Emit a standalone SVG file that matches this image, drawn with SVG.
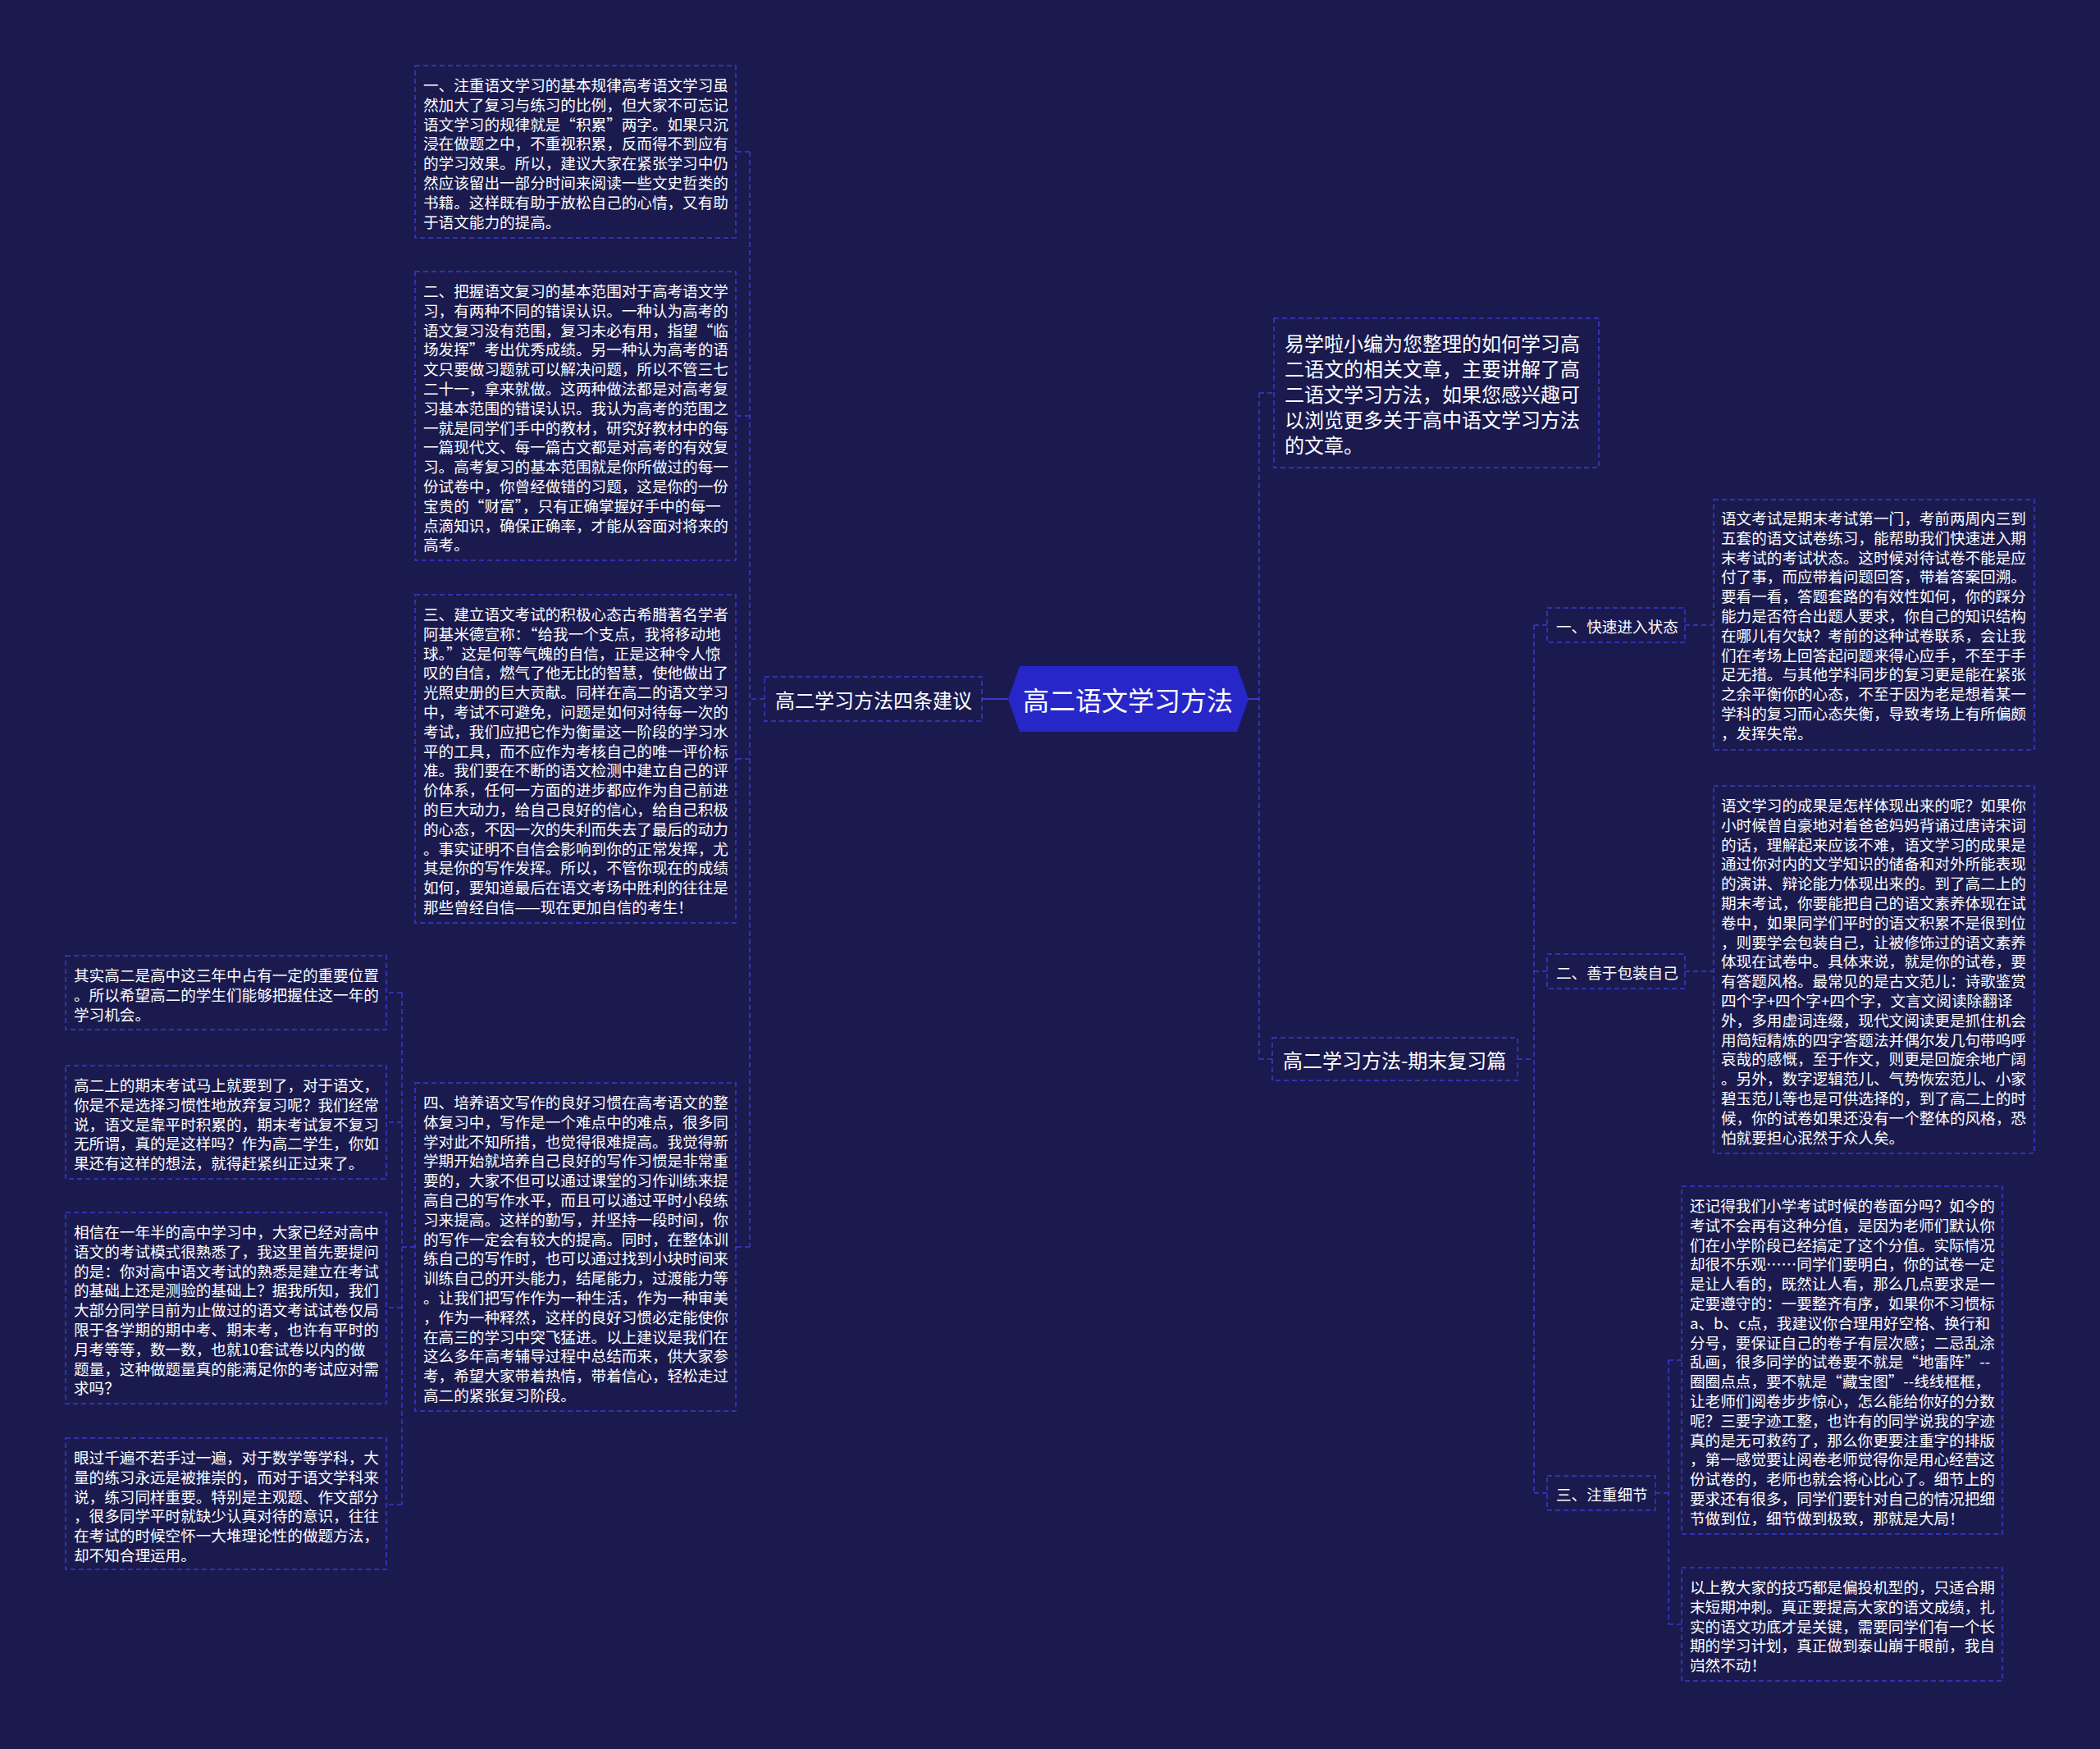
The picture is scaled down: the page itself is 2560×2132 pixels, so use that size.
<svg xmlns="http://www.w3.org/2000/svg" width="2560" height="2132" viewBox="0 0 2560 2132">
<style>
.bg{fill:#1a1a4f}
.box{fill:#1a1a4f;stroke:#3a3acf;stroke-width:1.5;stroke-dasharray:6 4}
.ln{fill:none;stroke:#3a3acf;stroke-width:1.5;stroke-dasharray:6 4}
.solid{fill:none;stroke:#3a3acf;stroke-width:2}
text{font-family:"Noto Sans CJK SC","Noto Sans CJK TC",sans-serif;fill:#ffffff;dominant-baseline:central}
.t{font-size:18.6px}
.m{font-size:24px}
.c{font-size:32px}
</style>
<rect class="bg" x="0" y="0" width="2560" height="2132"/>

<g id="connectors">
  <path class="solid" d="M1229,852 H1197"/>
  <path class="ln" d="M932,852 H914 M914,185 V1520 M914,185 H897 M914,507 H897 M914,925 H897 M914,1520 H897"/>
  <path class="ln" d="M506,1520 H490 M490,1210 V1834 M490,1210 H471 M490,1368 H471 M490,1594 H471 M490,1834 H471"/>
  <path class="solid" d="M1522,852 H1535"/>
  <path class="ln" d="M1535,479 V1291 M1535,479 H1553 M1535,1291 H1551"/>
  <path class="ln" d="M1850,1291 H1870 M1870,762 V1820 M1870,762 H1886 M1870,1184 H1886 M1870,1820 H1886"/>
  <path class="ln" d="M2054,762 H2089 M2054,1184 H2089"/>
  <path class="ln" d="M2018,1820 H2034 M2034,1658 V1980 M2034,1658 H2050 M2034,1980 H2050"/>
</g>

<g id="center">
  <polygon points="1229,852 1243,812 1508,812 1522,852 1508,892 1243,892" fill="#2727c9"/>
  <text class="c" x="1375" y="852" text-anchor="middle">高二语文学习方法</text>
</g>

<g id="branch-left">
  <rect class="box" x="932" y="825" width="265" height="54"/>
  <text class="m" x="945" y="852">高二学习方法四条建议</text>
</g>

<g id="nodeA">
  <rect class="box" x="506" y="80" width="391" height="210"/>
  <text class="t" x="516"><tspan x="516" y="102">一、注重语文学习的基本规律高考语文学习虽</tspan><tspan x="516" y="125.8">然加大了复习与练习的比例，但大家不可忘记</tspan><tspan x="516" y="149.6">语文学习的规律就是“积累”两字。如果只沉</tspan><tspan x="516" y="173.4">浸在做题之中，不重视积累，反而得不到应有</tspan><tspan x="516" y="197.2">的学习效果。所以，建议大家在紧张学习中仍</tspan><tspan x="516" y="221">然应该留出一部分时间来阅读一些文史哲类的</tspan><tspan x="516" y="244.8">书籍。这样既有助于放松自己的心情，又有助</tspan><tspan x="516" y="268.6">于语文能力的提高。</tspan></text>
</g>

<g id="nodeB">
  <rect class="box" x="506" y="331" width="391" height="352"/>
  <text class="t"><tspan x="516" y="353">二、把握语文复习的基本范围对于高考语文学</tspan><tspan x="516" y="376.8">习，有两种不同的错误认识。一种认为高考的</tspan><tspan x="516" y="400.6">语文复习没有范围，复习未必有用，指望“临</tspan><tspan x="516" y="424.4">场发挥”考出优秀成绩。另一种认为高考的语</tspan><tspan x="516" y="448.2">文只要做习题就可以解决问题，所以不管三七</tspan><tspan x="516" y="472">二十一，拿来就做。这两种做法都是对高考复</tspan><tspan x="516" y="495.8">习基本范围的错误认识。我认为高考的范围之</tspan><tspan x="516" y="519.6">一就是同学们手中的教材，研究好教材中的每</tspan><tspan x="516" y="543.4">一篇现代文、每一篇古文都是对高考的有效复</tspan><tspan x="516" y="567.2">习。高考复习的基本范围就是你所做过的每一</tspan><tspan x="516" y="591">份试卷中，你曾经做错的习题，这是你的一份</tspan><tspan x="516" y="614.8">宝贵的“财富”，只有正确掌握好手中的每一</tspan><tspan x="516" y="638.6">点滴知识，确保正确率，才能从容面对将来的</tspan><tspan x="516" y="662.4">高考。</tspan></text>
</g>

<g id="nodeC">
  <rect class="box" x="506" y="725" width="391" height="400"/>
  <text class="t"><tspan x="516" y="747">三、建立语文考试的积极心态古希腊著名学者</tspan><tspan x="516" y="770.8">阿基米德宣称：“给我一个支点，我将移动地</tspan><tspan x="516" y="794.6">球。”这是何等气魄的自信，正是这种令人惊</tspan><tspan x="516" y="818.4">叹的自信，燃气了他无比的智慧，使他做出了</tspan><tspan x="516" y="842.2">光照史册的巨大贡献。同样在高二的语文学习</tspan><tspan x="516" y="866">中，考试不可避免，问题是如何对待每一次的</tspan><tspan x="516" y="889.8">考试，我们应把它作为衡量这一阶段的学习水</tspan><tspan x="516" y="913.6">平的工具，而不应作为考核自己的唯一评价标</tspan><tspan x="516" y="937.4">准。我们要在不断的语文检测中建立自己的评</tspan><tspan x="516" y="961.2">价体系，任何一方面的进步都应作为自己前进</tspan><tspan x="516" y="985">的巨大动力，给自己良好的信心，给自己积极</tspan><tspan x="516" y="1008.8">的心态，不因一次的失利而失去了最后的动力</tspan><tspan x="516" y="1032.6">。事实证明不自信会影响到你的正常发挥，尤</tspan><tspan x="516" y="1056.4">其是你的写作发挥。所以，不管你现在的成绩</tspan><tspan x="516" y="1080.2">如何，要知道最后在语文考场中胜利的往往是</tspan><tspan x="516" y="1104">那些曾经自信——现在更加自信的考生！</tspan></text>
</g>

<g id="nodeD">
  <rect class="box" x="506" y="1320" width="391" height="400"/>
  <text class="t"><tspan x="516" y="1342">四、培养语文写作的良好习惯在高考语文的整</tspan><tspan x="516" y="1365.8">体复习中，写作是一个难点中的难点，很多同</tspan><tspan x="516" y="1389.6">学对此不知所措，也觉得很难提高。我觉得新</tspan><tspan x="516" y="1413.4">学期开始就培养自己良好的写作习惯是非常重</tspan><tspan x="516" y="1437.2">要的，大家不但可以通过课堂的习作训练来提</tspan><tspan x="516" y="1461">高自己的写作水平，而且可以通过平时小段练</tspan><tspan x="516" y="1484.8">习来提高。这样的勤写，并坚持一段时间，你</tspan><tspan x="516" y="1508.6">的写作一定会有较大的提高。同时，在整体训</tspan><tspan x="516" y="1532.4">练自己的写作时，也可以通过找到小块时间来</tspan><tspan x="516" y="1556.2">训练自己的开头能力，结尾能力，过渡能力等</tspan><tspan x="516" y="1580">。让我们把写作作为一种生活，作为一种审美</tspan><tspan x="516" y="1603.8">，作为一种释然，这样的良好习惯必定能使你</tspan><tspan x="516" y="1627.6">在高三的学习中突飞猛进。以上建议是我们在</tspan><tspan x="516" y="1651.4">这么多年高考辅导过程中总结而来，供大家参</tspan><tspan x="516" y="1675.2">考，希望大家带着热情，带着信心，轻松走过</tspan><tspan x="516" y="1699">高二的紧张复习阶段。</tspan></text>
</g>

<g id="nodeE">
  <rect class="box" x="80" y="1165" width="391" height="90"/>
  <text class="t"><tspan x="90" y="1187">其实高二是高中这三年中占有一定的重要位置</tspan><tspan x="90" y="1210.8">。所以希望高二的学生们能够把握住这一年的</tspan><tspan x="90" y="1234.6">学习机会。</tspan></text>
</g>

<g id="nodeF">
  <rect class="box" x="80" y="1299" width="391" height="138"/>
  <text class="t"><tspan x="90" y="1321">高二上的期末考试马上就要到了，对于语文，</tspan><tspan x="90" y="1344.8">你是不是选择习惯性地放弃复习呢？我们经常</tspan><tspan x="90" y="1368.6">说，语文是靠平时积累的，期末考试复不复习</tspan><tspan x="90" y="1392.4">无所谓，真的是这样吗？作为高二学生，你如</tspan><tspan x="90" y="1416.2">果还有这样的想法，就得赶紧纠正过来了。</tspan></text>
</g>

<g id="nodeG">
  <rect class="box" x="80" y="1478" width="391" height="233"/>
  <text class="t"><tspan x="90" y="1500">相信在一年半的高中学习中，大家已经对高中</tspan><tspan x="90" y="1523.8">语文的考试模式很熟悉了，我这里首先要提问</tspan><tspan x="90" y="1547.6">的是：你对高中语文考试的熟悉是建立在考试</tspan><tspan x="90" y="1571.4">的基础上还是测验的基础上？据我所知，我们</tspan><tspan x="90" y="1595.2">大部分同学目前为止做过的语文考试试卷仅局</tspan><tspan x="90" y="1619">限于各学期的期中考、期末考，也许有平时的</tspan><tspan x="90" y="1642.8">月考等等，数一数，也就10套试卷以内的做</tspan><tspan x="90" y="1666.6">题量，这种做题量真的能满足你的考试应对需</tspan><tspan x="90" y="1690.4">求吗？</tspan></text>
</g>

<g id="nodeH">
  <rect class="box" x="80" y="1753" width="391" height="160"/>
  <text class="t"><tspan x="90" y="1775">眼过千遍不若手过一遍，对于数学等学科，大</tspan><tspan x="90" y="1798.8">量的练习永远是被推崇的，而对于语文学科来</tspan><tspan x="90" y="1822.6">说，练习同样重要。特别是主观题、作文部分</tspan><tspan x="90" y="1846.4">，很多同学平时就缺少认真对待的意识，往往</tspan><tspan x="90" y="1870.2">在考试的时候空怀一大堆理论性的做题方法，</tspan><tspan x="90" y="1894">却不知合理运用。</tspan></text>
</g>

<g id="intro">
  <rect class="box" x="1553" y="388" width="396" height="182"/>
  <text class="m"><tspan x="1566" y="417">易学啦小编为您整理的如何学习高</tspan><tspan x="1566" y="448">二语文的相关文章，主要讲解了高</tspan><tspan x="1566" y="479">二语文学习方法，如果您感兴趣可</tspan><tspan x="1566" y="510">以浏览更多关于高中语文学习方法</tspan><tspan x="1566" y="541">的文章。</tspan></text>
</g>

<g id="branch-right">
  <rect class="box" x="1551" y="1265" width="299" height="52"/>
  <text class="m" x="1564" y="1291">高二学习方法-期末复习篇</text>
</g>

<g id="label1">
  <rect class="box" x="1886" y="741" width="168" height="42"/>
  <text class="t" x="1897" y="762">一、快速进入状态</text>
</g>
<g id="label2">
  <rect class="box" x="1886" y="1163" width="168" height="42"/>
  <text class="t" x="1897" y="1184">二、善于包装自己</text>
</g>
<g id="label3">
  <rect class="box" x="1886" y="1799" width="132" height="42"/>
  <text class="t" x="1897" y="1820">三、注重细节</text>
</g>

<g id="nodeR1">
  <rect class="box" x="2089" y="609" width="391" height="305"/>
  <text class="t"><tspan x="2098" y="630">语文考试是期末考试第一门，考前两周内三到</tspan><tspan x="2098" y="653.8">五套的语文试卷练习，能帮助我们快速进入期</tspan><tspan x="2098" y="677.6">末考试的考试状态。这时候对待试卷不能是应</tspan><tspan x="2098" y="701.4">付了事，而应带着问题回答，带着答案回溯。</tspan><tspan x="2098" y="725.2">要看一看，答题套路的有效性如何，你的踩分</tspan><tspan x="2098" y="749">能力是否符合出题人要求，你自己的知识结构</tspan><tspan x="2098" y="772.8">在哪儿有欠缺？考前的这种试卷联系，会让我</tspan><tspan x="2098" y="796.6">们在考场上回答起问题来得心应手，不至于手</tspan><tspan x="2098" y="820.4">足无措。与其他学科同步的复习更是能在紧张</tspan><tspan x="2098" y="844.2">之余平衡你的心态，不至于因为老是想着某一</tspan><tspan x="2098" y="868">学科的复习而心态失衡，导致考场上有所偏颇</tspan><tspan x="2098" y="891.8">，发挥失常。</tspan></text>
</g>

<g id="nodeR2">
  <rect class="box" x="2089" y="958" width="391" height="448"/>
  <text class="t"><tspan x="2098" y="980">语文学习的成果是怎样体现出来的呢？如果你</tspan><tspan x="2098" y="1003.8">小时候曾自豪地对着爸爸妈妈背诵过唐诗宋词</tspan><tspan x="2098" y="1027.6">的话，理解起来应该不难，语文学习的成果是</tspan><tspan x="2098" y="1051.4">通过你对内的文学知识的储备和对外所能表现</tspan><tspan x="2098" y="1075.2">的演讲、辩论能力体现出来的。到了高二上的</tspan><tspan x="2098" y="1099">期末考试，你要能把自己的语文素养体现在试</tspan><tspan x="2098" y="1122.8">卷中，如果同学们平时的语文积累不是很到位</tspan><tspan x="2098" y="1146.6">，则要学会包装自己，让被修饰过的语文素养</tspan><tspan x="2098" y="1170.4">体现在试卷中。具体来说，就是你的试卷，要</tspan><tspan x="2098" y="1194.2">有答题风格。最常见的是古文范儿：诗歌鉴赏</tspan><tspan x="2098" y="1218">四个字+四个字+四个字，文言文阅读除翻译</tspan><tspan x="2098" y="1241.8">外，多用虚词连缀，现代文阅读更是抓住机会</tspan><tspan x="2098" y="1265.6">用简短精炼的四字答题法并偶尔发几句带呜呼</tspan><tspan x="2098" y="1289.4">哀哉的感慨，至于作文，则更是回旋余地广阔</tspan><tspan x="2098" y="1313.2">。另外，数字逻辑范儿、气势恢宏范儿、小家</tspan><tspan x="2098" y="1337">碧玉范儿等也是可供选择的，到了高二上的时</tspan><tspan x="2098" y="1360.8">候，你的试卷如果还没有一个整体的风格，恐</tspan><tspan x="2098" y="1384.6">怕就要担心泯然于众人矣。</tspan></text>
</g>

<g id="nodeR3">
  <rect class="box" x="2050" y="1446" width="391" height="424"/>
  <text class="t"><tspan x="2060" y="1468">还记得我们小学考试时候的卷面分吗？如今的</tspan><tspan x="2060" y="1491.8">考试不会再有这种分值，是因为老师们默认你</tspan><tspan x="2060" y="1515.6">们在小学阶段已经搞定了这个分值。实际情况</tspan><tspan x="2060" y="1539.4">却很不乐观……同学们要明白，你的试卷一定</tspan><tspan x="2060" y="1563.2">是让人看的，既然让人看，那么几点要求是一</tspan><tspan x="2060" y="1587">定要遵守的：一要整齐有序，如果你不习惯标</tspan><tspan x="2060" y="1610.8">a、b、c点，我建议你合理用好空格、换行和</tspan><tspan x="2060" y="1634.6">分号，要保证自己的卷子有层次感；二忌乱涂</tspan><tspan x="2060" y="1658.4">乱画，很多同学的试卷要不就是“地雷阵”--</tspan><tspan x="2060" y="1682.2">圈圈点点，要不就是“藏宝图”--线线框框，</tspan><tspan x="2060" y="1706">让老师们阅卷步步惊心，怎么能给你好的分数</tspan><tspan x="2060" y="1729.8">呢？三要字迹工整，也许有的同学说我的字迹</tspan><tspan x="2060" y="1753.6">真的是无可救药了，那么你更要注重字的排版</tspan><tspan x="2060" y="1777.4">，第一感觉要让阅卷老师觉得你是用心经营这</tspan><tspan x="2060" y="1801.2">份试卷的，老师也就会将心比心了。细节上的</tspan><tspan x="2060" y="1825">要求还有很多，同学们要针对自己的情况把细</tspan><tspan x="2060" y="1848.8">节做到位，细节做到极致，那就是大局！</tspan></text>
</g>

<g id="nodeR4">
  <rect class="box" x="2050" y="1911" width="391" height="138"/>
  <text class="t"><tspan x="2060" y="1933">以上教大家的技巧都是偏投机型的，只适合期</tspan><tspan x="2060" y="1956.8">末短期冲刺。真正要提高大家的语文成绩，扎</tspan><tspan x="2060" y="1980.6">实的语文功底才是关键，需要同学们有一个长</tspan><tspan x="2060" y="2004.4">期的学习计划，真正做到泰山崩于眼前，我自</tspan><tspan x="2060" y="2028.2">岿然不动！</tspan></text>
</g>
</svg>
